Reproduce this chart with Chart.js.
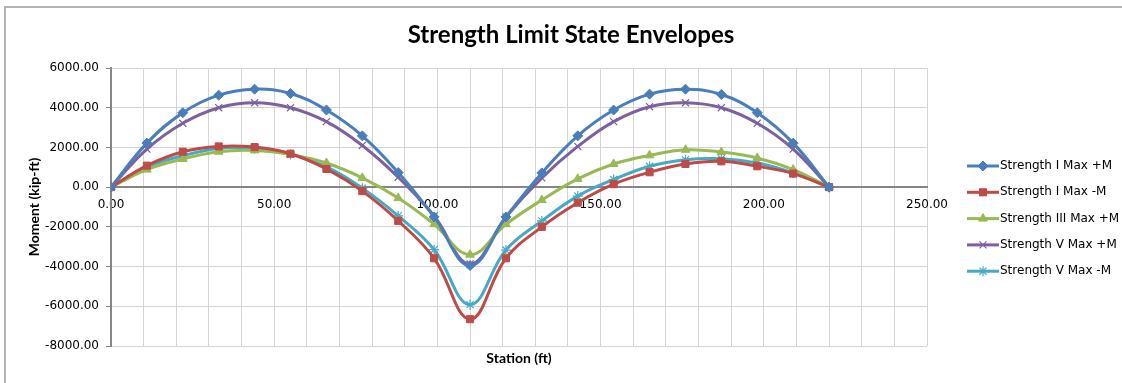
<!DOCTYPE html>
<html>
<head>
<meta charset="utf-8">
<script src="https://cdn.jsdelivr.net/npm/chart.js@4"></script>
<style>
  html, body { margin: 0; padding: 0; background: #fff; }
  #wrap { position: relative; width: 1122px; height: 383px; }
  #frame { position: absolute; left: 4px; top: 6px; right: -4px; bottom: -4px; border: 2px solid #b4b4b4; }
  #envChart { position: absolute; left: 0; top: 0; }
</style>
</head>
<body>
<div id="wrap">
  <div id="frame"></div>
  <canvas id="envChart" width="1122" height="383"></canvas>
</div>
<script>
const stations = [0, 11, 22, 33, 44, 55, 66, 77, 88, 99, 110, 121, 132, 143, 154, 165, 176, 187, 198, 209, 220];

const strengthIMaxPos = [0, 2217, 3750, 4633, 4933, 4717, 3883, 2583, 733, -1500, -3950, -1500, 717, 2583, 3883, 4683, 4933, 4667, 3750, 2217, 0];
const strengthIMaxNeg = [0, 1083, 1783, 2050, 2017, 1683, 917, -200, -1700, -3583, -6650, -3583, -2000, -783, 150, 750, 1167, 1300, 1050, 683, 0];
const strengthIIIMaxPos = [0, 883, 1417, 1783, 1850, 1650, 1217, 467, -550, -1867, -3400, -1867, -650, 417, 1167, 1600, 1883, 1767, 1467, 883, 0];
const strengthVMaxPos = [0, 1917, 3217, 4000, 4250, 4000, 3300, 2100, 500, -1450, -3867, -1500, 467, 2050, 3300, 4050, 4250, 4000, 3217, 1917, 0];
const strengthVMaxNeg = [0, 1017, 1583, 1950, 1950, 1650, 1017, -50, -1450, -3150, -5917, -3167, -1700, -450, 383, 1050, 1383, 1433, 1217, 717, 0];

const seriesNames = ['Strength I Max +M', 'Strength I Max -M', 'Strength III Max +M', 'Strength V Max +M', 'Strength V Max -M'];
const seriesColors = ['#4a7ebb', '#be4b48', '#98b954', '#7d60a0', '#46aac5'];
const seriesMarkers = ['rectRot', 'rect', 'triangle', 'crossRot', 'star'];

const TITLE_FONT = 'Lato, "Liberation Sans", sans-serif';
const TEXT_FONT = '"DejaVu Sans", sans-serif';

function toPoints(values) {
    return stations.map(function (s, i) { return { x: s, y: values[i] }; });
}

const allSeries = [strengthIMaxPos, strengthIMaxNeg, strengthIIIMaxPos, strengthVMaxPos, strengthVMaxNeg];

const datasets = allSeries.map(function (vals, i) {
    const lined = seriesMarkers[i] === 'crossRot' || seriesMarkers[i] === 'star';
    return {
        label: seriesNames[i],
        data: toPoints(vals),
        borderColor: seriesColors[i],
        backgroundColor: seriesColors[i],
        borderWidth: 3,
        tension: 0.4,
        pointStyle: seriesMarkers[i],
        pointRadius: 5,
        pointBorderWidth: lined ? 1.2 : 1,
        pointBorderColor: seriesColors[i],
        pointBackgroundColor: seriesColors[i]
    };
});

// legend drawn as line + marker, like the spreadsheet original
const sideLegend = {
    id: 'sideLegend',
    afterDraw: function (chart) {
        const ctx = chart.ctx;
        ctx.save();
        chart.data.datasets.forEach(function (ds, i) {
            const y = 166 + i * 26.3;
            ctx.strokeStyle = ds.borderColor;
            ctx.lineWidth = 3;
            ctx.beginPath();
            ctx.moveTo(967, y);
            ctx.lineTo(999, y);
            ctx.stroke();
            ctx.fillStyle = ds.backgroundColor;
            ctx.strokeStyle = ds.borderColor;
            ctx.lineWidth = ds.pointBorderWidth;
            Chart.helpers.drawPoint(ctx, { pointStyle: ds.pointStyle, radius: 5, borderWidth: ds.pointBorderWidth, rotation: 0 }, 983, y);
            ctx.fillStyle = '#000';
            ctx.font = '12px ' + TEXT_FONT;
            ctx.textBaseline = 'middle';
            ctx.textAlign = 'left';
            ctx.fillText(ds.label, 1000, y);
        });
        ctx.restore();
    }
};

new Chart(document.getElementById('envChart').getContext('2d'), {
    type: 'line',
    data: { datasets: datasets },
    options: {
        responsive: false,
        animation: false,
        layout: { padding: { left: 20, right: 0, top: 0, bottom: 0 } },
        plugins: {
            legend: { display: false },
            tooltip: { enabled: false },
            title: {
                display: true,
                text: 'Strength Limit State Envelopes',
                color: '#000',
                font: { family: TITLE_FONT, size: 24, weight: 'bold' },
                padding: { top: 21, bottom: 18.2 }
            }
        },
        scales: {
            x: {
                type: 'linear',
                position: { y: 0 },
                min: 0,
                max: 250,
                grid: { color: '#d4d4d4', drawTicks: false, lineWidth: 1 },
                border: { color: '#868686', width: 2 },
                ticks: {
                    stepSize: 10,
                    autoSkip: false,
                    maxRotation: 0,
                    padding: 11,
                    color: '#000',
                    font: { family: TEXT_FONT, size: 12 },
                    callback: function (v) { return v % 50 === 0 ? v.toFixed(2) : ''; }
                }
            },
            xTitle: {
                type: 'linear',
                position: 'bottom',
                min: 0,
                max: 250,
                grid: { display: false },
                border: { display: false },
                ticks: { display: false },
                title: {
                    display: true,
                    text: 'Station (ft)',
                    color: '#000',
                    font: { family: TITLE_FONT, size: 14, weight: 'bold' },
                    padding: { top: 0, bottom: 16 }
                },
                afterFit: function (scale) { scale.height = 37; }
            },
            y: {
                min: -8000,
                max: 6000,
                grid: { color: '#d4d4d4', tickLength: 5, tickColor: '#868686' },
                border: { color: '#868686', width: 2 },
                ticks: {
                    stepSize: 2000,
                    padding: 7,
                    color: '#000',
                    font: { family: TEXT_FONT, size: 12 },
                    callback: function (v) { return v.toFixed(2); }
                },
                title: {
                    display: true,
                    text: 'Moment (kip-ft)',
                    color: '#000',
                    font: { family: TITLE_FONT, size: 14, weight: 'bold' },
                    padding: { top: 6, bottom: 0 }
                },
                afterFit: function (scale) { scale.width = 91; }
            },
            legendSpace: {
                type: 'linear',
                position: 'right',
                min: 0,
                max: 1,
                grid: { display: false },
                border: { display: false },
                ticks: { display: false },
                afterFit: function (scale) { scale.width = 195; }
            }
        }
    },
    plugins: [sideLegend]
});
</script>
</body>
</html>
